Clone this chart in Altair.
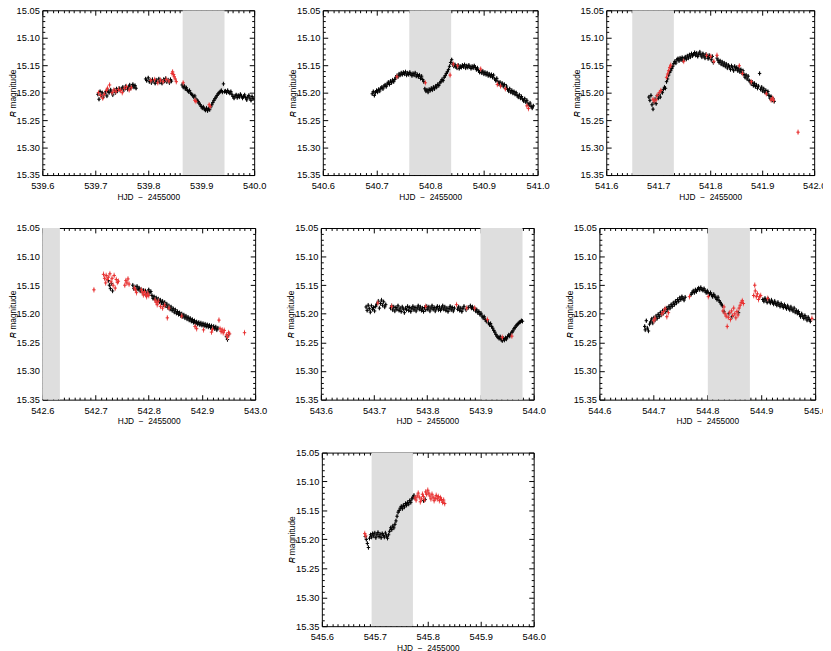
import altair as alt
import pandas as pd

FONT = "Liberation Sans"

# integer part of HJD - 2455000 for each panel
DAYS = [539, 540, 541, 542, 543, 544, 545]
# grey shaded interval (HJD - 2455000) for each panel
SHADES = [(539.865, 539.944), (540.761, 540.839), (541.650, 541.730), (542.553, 542.633),
          (543.900, 543.979), (544.801, 544.879), (545.694, 545.772)]

# points: (time in 0.001 d after the integer day, R magnitude in mmag above 15.000)
P1_K = [(705,203),(707,212),(709,198),(711,205),(713,200),(715,208),(718,202),(720,198),(722,206),(724,197),
        (726,200),(729,195),(731,199),(733,204),(736,196),(738,200),(740,193),(742,197),(745,192),(747,196),
        (749,193),(752,190),(754,195),(756,192),(758,188),(761,194),(763,190),(765,186),(767,192),(769,188),
        (771,185),(773,190),(775,187),(777,192),
        (795,175),(797,178),(800,173),(802,180),(804,177),(806,182),(808,176),(811,179),(813,183),(815,177),
        (817,180),(820,175),(822,181),(824,178),(826,183),(829,176),(831,179),(833,174),(835,180),(838,177),
        (840,182),(842,176),(844,179),
        (864,186),(866,190),(868,188),(870,193),(872,191),(874,196),(876,198),(878,196),(880,201),(882,203),
        (884,205),(886,208),(888,206),(890,212),(892,214),(894,216),(896,219),(898,222),(900,225),(902,228),
        (904,226),(906,230),(908,232),(910,228),(912,233),(914,229),(916,231),(918,226),(920,222),(922,218),
        (924,214),(926,211),(928,208),(930,205),(932,202),(934,200),(936,198),(938,196),(940,199),(942,184),
        (944,198),(946,197),(948,200),(950,196),(952,199),(954,201),(956,198),(958,203),(960,207),(962,210),
        (964,206),(966,204),(968,209),(970,205),(972,208),(974,203),(976,206),(978,210),(980,207),(982,204),
        (984,209),(986,213),(988,208),(990,205),(992,210),(994,214),(996,207),(998,211)]
P1_R = [(706,200),(710,205),(714,210),(717,203),(721,196),(723,192),(727,186),(732,200),(735,195),(739,198),
        (744,194),(748,196),(751,200),(755,192),(759,189),(764,195),(768,191),(805,178),(812,176),(818,182),
        (823,177),(828,180),(834,176),(839,179),(845,165),(846,162),(848,167),(849,171),(851,175),(853,180),
        (866,182),(888,214),(890,216),(915,222),(917,225)]

P2_K = [(692,202),(694,198),(696,205),(698,200),(700,196),(702,199),(704,194),(706,197),(708,192),(710,190),
        (712,193),(714,188),(716,186),(718,189),(720,184),(722,181),(724,185),(726,179),(728,182),(730,177),
        (732,180),(734,176),(736,172),(738,169),(740,171),(742,166),(744,168),(746,164),(748,167),(750,163),
        (752,166),(754,162),(756,168),(758,164),(760,167),(762,163),(764,166),(766,169),(768,165),(770,168),
        (772,164),(774,170),(776,167),(778,171),(780,168),(782,174),(784,170),(786,176),(788,180),(790,193),
        (792,197),(794,195),(796,199),(798,194),(800,196),(802,192),(804,195),(806,190),(808,193),(810,188),
        (812,190),(814,185),(816,187),(818,182),(820,180),(822,176),(824,178),(826,172),(828,169),(830,165),
        (832,162),(834,158),(836,152),(838,145),(840,140),(842,148),(844,152),(846,149),(848,153),(850,155),
        (852,150),(854,156),(856,152),(858,154),(860,150),(862,153),(864,149),(866,155),(868,151),(870,154),
        (872,150),(874,153),(876,156),(878,152),(880,155),(882,151),(884,154),(886,158),(888,155),(890,160),
        (892,163),(894,160),(896,164),(898,161),(900,166),(902,163),(904,167),(906,164),(908,169),(910,166),
        (912,170),(914,167),(916,172),(918,168),(920,175),(922,178),(924,174),(926,180),(928,184),(930,181),
        (932,186),(934,183),(936,188),(938,185),(940,192),(942,188),(944,194),(946,197),(948,193),(950,199),
        (952,196),(954,201),(956,198),(958,203),(960,200),(962,205),(964,208),(966,204),(968,210),(970,207),
        (972,212),(974,215),(976,211),(978,217),(980,214),(982,220),(984,223),(986,219),(988,225),(990,228),
        (992,224)]
P2_R = [(738,171),(791,182),(837,168),(843,148),(851,151),(894,157),(925,185),(931,188),(940,193),(980,224),
        (983,229)]

P3_K = [(682,208),(684,214),(686,205),(688,222),(690,230),(692,218),(694,212),(696,220),(698,206),(700,210),
        (702,203),(704,208),(706,198),(708,200),(710,194),(712,190),(714,192),(716,180),(718,175),(720,168),
        (722,163),(724,160),(726,156),(728,152),(730,147),(732,143),(734,146),(736,140),(738,138),(740,142),
        (742,137),(744,140),(746,136),(748,142),(750,138),(752,135),(754,139),(756,133),(758,137),(760,131),
        (762,135),(764,129),(766,133),(768,130),(770,127),(772,132),(774,128),(776,134),(778,130),(780,126),
        (782,131),(784,135),(786,129),(788,133),(790,137),(792,130),(794,134),(796,138),(798,132),(800,136),
        (802,140),(804,134),(806,145),(813,137),(815,141),(817,145),(819,142),(821,148),(823,144),(825,150),
        (827,146),(829,152),(831,148),(833,155),(835,150),(837,153),(839,158),(841,151),(843,155),(845,160),
        (847,152),(849,157),(851,154),(853,160),(855,156),(857,162),(859,158),(861,164),(863,160),(865,167),
        (867,172),(869,168),(871,175),(873,170),(875,178),(877,180),(879,184),(881,181),(883,187),(885,183),
        (887,189),(889,186),(891,192),(893,188),(895,165),(897,194),(899,190),(901,197),(903,193),(905,199),
        (907,196),(909,202),(911,198),(913,205),(915,210),(917,207),(919,214),(921,211),(923,216)]
P3_R = [(690,212),(692,215),(696,213),(698,205),(702,200),(705,196),(716,172),(718,166),(720,160),(722,154),
        (724,150),(749,143),(793,132),(801,134),(807,143),(813,132),(856,151),(862,165),(879,180),(908,202),
        (917,213),(920,210),(922,214),(969,272)]

P4_K = [(724,142),(726,150),(728,156),(730,147),(732,160),(770,150),(772,156),(774,153),(776,158),(778,152),
        (780,157),(782,155),(784,160),(786,157),(788,162),(790,159),(792,164),(794,160),(796,166),(798,162),
        (800,158),(802,163),(804,161),(806,168),(808,173),(810,170),(812,175),(814,172),(816,177),(818,174),
        (820,179),(822,176),(824,181),(826,178),(828,184),(830,180),(832,186),(834,183),(836,189),(838,186),
        (840,192),(842,188),(844,194),(846,191),(848,197),(850,193),(852,199),(854,196),(856,201),(858,198),
        (860,203),(862,200),(864,205),(866,202),(868,207),(870,204),(872,209),(874,206),(876,211),(878,208),
        (880,213),(882,210),(884,215),(886,212),(888,217),(890,214),(892,218),(894,215),(896,219),(898,216),
        (900,220),(902,217),(904,221),(906,218),(908,222),(910,219),(912,223),(914,220),(916,224),(918,221),
        (920,225),(922,222),(924,226),(926,223),(928,228),(930,225),(946,240),(948,245),(950,236)]
P4_R = [(697,158),(715,131),(717,138),(719,146),(720,133),(722,140),(724,136),(727,130),(729,144),(731,138),
        (733,150),(735,133),(737,155),(739,140),(741,145),(743,143),(755,150),(757,142),(759,146),(761,139),
        (763,148),(773,155),(775,158),(777,163),(786,158),(788,163),(790,167),(792,161),(794,166),(796,170),
        (798,164),(800,168),(812,176),(814,180),(816,184),(818,178),(822,187),(826,190),(830,185),(835,207),
        (838,190),(862,204),(887,222),(890,226),(903,228),(918,232),(920,227),(932,211),(934,226),(936,231),
        (938,228),(940,233),(942,229),(946,237),(948,241),(950,233),(952,235),(980,233)]

P5_K = [(685,188),(687,194),(689,185),(691,191),(693,197),(695,186),(697,192),(699,189),(701,195),(703,187),
        (705,183),(708,178),(710,190),(712,182),(714,176),(716,185),(718,179),(720,188),(722,184),(731,190),
        (733,186),(735,193),(737,188),(739,195),(741,189),(743,192),(745,186),(747,194),(749,190),(751,196),
        (753,188),(755,192),(757,198),(759,190),(761,193),(763,187),(765,194),(767,189),(769,196),(771,191),
        (773,187),(775,193),(777,189),(779,195),(781,190),(783,186),(785,192),(787,188),(789,194),(791,190),
        (793,196),(795,189),(797,193),(799,187),(801,192),(803,188),(805,195),(807,190),(809,186),(811,192),
        (813,189),(815,195),(817,190),(819,187),(821,193),(823,188),(825,194),(827,190),(829,186),(831,192),
        (833,188),(835,194),(837,190),(839,196),(841,191),(843,187),(845,193),(847,189),(849,195),(851,190),
        (857,192),(859,188),(861,194),(863,190),(865,196),(867,191),(869,187),(873,193),(877,189),(881,186),
        (883,190),(885,188),(887,192),(889,190),(891,195),(893,193),(895,198),(897,196),(899,201),(901,199),
        (903,204),(905,207),(907,205),(909,210),(911,213),(913,211),(915,216),(917,219),(919,217),(921,222),
        (923,225),(925,229),(927,232),(929,236),(931,239),(933,241),(935,243),(937,240),(939,245),(941,247),
        (943,243),(945,246),(947,242),(949,244),(951,240),(953,237),(955,239),(957,235),(959,232),(961,230),
        (963,226),(965,224),(967,221),(969,219),(971,217),(973,215),(975,214),(977,212),(979,213)]
P5_R = [(707,181),(733,187),(797,187),(855,184),(874,190),(889,190),(913,210),(941,241),(959,239)]

P6_K = [(684,222),(685,228),(687,212),(689,225),(691,230),(693,218),(695,214),(697,209),(699,216),(701,207),
        (703,211),(705,204),(707,208),(709,201),(711,205),(713,198),(715,202),(717,195),(719,199),(721,192),
        (723,196),(725,190),(727,193),(729,187),(731,190),(733,184),(735,187),(737,181),(739,184),(741,178),
        (743,181),(745,175),(747,178),(749,172),(751,175),(753,170),(755,173),(757,176),(759,171),(770,166),
        (772,163),(774,160),(776,163),(778,158),(780,161),(782,157),(784,155),(786,158),(788,154),(790,157),
        (792,159),(794,156),(796,160),(798,163),(800,160),(802,164),(804,166),(806,163),(808,167),(810,170),
        (812,166),(814,169),(816,172),(818,175),(820,171),(822,177),(824,180),(826,183),(828,186),(831,196),
        (840,200),(846,205),(858,198),(903,175),(905,178),(907,173),(909,176),(911,180),(913,174),(915,178),
        (917,181),(919,176),(921,180),(923,183),(925,178),(927,182),(929,185),(931,180),(933,184),(935,187),
        (937,182),(939,186),(941,189),(943,184),(945,188),(947,191),(949,186),(951,190),(953,193),(955,188),
        (957,192),(959,195),(961,190),(963,197),(965,194),(967,199),(969,196),(971,201),(973,205),(975,200),
        (977,204),(979,208),(981,203),(983,207),(985,211),(987,206),(989,210),(991,213)]
P6_R = [(701,212),(703,208),(716,200),(719,196),(722,191),(725,205),(728,198),(767,170),(802,170),(829,195),
        (831,188),(833,200),(835,204),(837,222),(839,206),(841,198),(843,210),(845,195),(847,203),(849,190),
        (851,200),(853,207),(855,196),(857,202),(859,190),(861,185),(863,180),(865,177),(867,182),(886,168),
        (888,150),(889,160),(891,170),(893,165),(895,175),(897,170),(899,168),(912,173),(994,208)]

P7_K = [(682,195),(684,200),(686,207),(688,214),(690,198),(692,192),(694,196),(696,190),(698,194),(700,189),
        (702,197),(704,192),(706,188),(708,195),(710,191),(712,197),(714,190),(716,193),(718,196),(720,189),
        (722,194),(724,198),(726,192),(728,186),(730,180),(732,183),(734,177),(736,180),(738,174),(740,168),
        (742,160),(744,153),(746,150),(748,146),(750,143),(752,147),(754,141),(756,144),(758,138),(760,141),
        (762,136),(764,139),(766,133),(768,136),(770,130),(772,127),(774,124),(776,128),(792,133),(795,131)]
P7_R = [(681,190),(683,194),(776,128),(778,132),(780,125),(782,120),(784,127),(786,135),(788,130),(790,122),
        (792,126),(794,132),(796,118),(798,122),(800,115),(802,120),(804,125),(806,130),(808,122),(810,127),
        (812,133),(814,129),(816,124),(818,130),(820,126),(822,133),(824,128),(826,131),(828,136),(830,132),
        (832,138)]

BLACK = [P1_K, P2_K, P3_K, P4_K, P5_K, P6_K, P7_K]
RED = [P1_R, P2_R, P3_R, P4_R, P5_R, P6_R, P7_R]

K_ERR = 0.004
R_ERR = 0.005
PLUS = "M-1,0L1,0M0,-1L0,1"


def frame(day, pts, err):
    t = [day + a / 1000 for a, b in pts]
    m = [15 + b / 1000 for a, b in pts]
    return pd.DataFrame({"t": t, "m": m, "lo": [v - err for v in m], "hi": [v + err for v in m]})


def axis(orient, values, size, labels=False, fmt=None, title=None, lpad=4, tpad=0):
    d = dict(orient=orient, values=values, tickSize=size, offset=-size, labels=labels,
             grid=False, domain=False, tickColor="black", tickWidth=1, title=title)
    if labels:
        d.update(format=fmt, labelFont=FONT, labelFontSize=9.5, labelColor="black",
                 labelPadding=lpad, labelFlush=False, labelOverlap=False)
    if title:
        d.update(titleFont=FONT, titleFontSize=8.5, titleFontWeight="normal",
                 titleColor="black", titlePadding=tpad)
    return alt.Axis(**d)


def panel(i, w, h):
    day = DAYS[i]
    xs = alt.Scale(domain=[day + 0.6, day + 1.0], nice=False, zero=False)
    ys = alt.Scale(domain=[15.05, 15.35], reverse=True, nice=False, zero=False)
    xmaj = [round(day + 0.6 + 0.1 * k, 2) for k in range(5)]
    xmin = [round(day + 0.6 + 0.01 * k, 3) for k in range(41) if k % 10]
    ymaj = [round(15.05 + 0.05 * k, 2) for k in range(7)]
    ymin = [round(15.05 + 0.01 * k, 2) for k in range(31) if k % 5]
    sdf = pd.DataFrame({"s": [SHADES[i][0]], "e": [SHADES[i][1]], "y0": [15.05], "y1": [15.35]})
    kdf = frame(day, BLACK[i], K_ERR)
    rdf = frame(day, RED[i], R_ERR)

    shade = alt.Chart(sdf).mark_rect(color="#dedede", clip=True).encode(
        x=alt.X("s:Q", scale=xs, axis=None), x2="e:Q",
        y=alt.Y("y0:Q", scale=ys, axis=None), y2="y1:Q")
    kbars = alt.Chart(kdf).mark_rule(color="#3a3a3a", strokeWidth=1, clip=True).encode(
        x=alt.X("t:Q", scale=xs, axis=axis("bottom", xmaj, 5, True, ".1f",
                                           "HJD\u00a0\u00a0\u2212\u00a0\u00a02455000", lpad=6, tpad=2)),
        y=alt.Y("lo:Q", scale=ys, axis=axis("left", ymaj, 5, True, ".2f", "\U0001D445 magnitude", lpad=3, tpad=-1)),
        y2="hi:Q")
    kpts = alt.Chart(kdf).mark_point(shape=PLUS, size=12, color="black", filled=False,
                                     strokeWidth=1, opacity=1, clip=True).encode(
        x=alt.X("t:Q", scale=xs, axis=axis("bottom", xmin, 2.5)),
        y=alt.Y("m:Q", scale=ys, axis=axis("left", ymin, 2.5)))
    rbars = alt.Chart(rdf).mark_rule(color="#f07a7a", strokeWidth=1, clip=True).encode(
        x=alt.X("t:Q", scale=xs, axis=axis("top", xmaj, 5)),
        y=alt.Y("lo:Q", scale=ys, axis=axis("right", ymaj, 5)),
        y2="hi:Q")
    rpts = alt.Chart(rdf).mark_point(shape=PLUS, size=12, color="#e83030", filled=False,
                                     strokeWidth=1, opacity=1, clip=True).encode(
        x=alt.X("t:Q", scale=xs, axis=axis("top", xmin, 2.5)),
        y=alt.Y("m:Q", scale=ys, axis=axis("right", ymin, 2.5)))
    return alt.layer(shade, kbars, kpts, rbars, rpts).resolve_axis(
        x="independent", y="independent").properties(width=w, height=h)


row1 = alt.hconcat(panel(0, 216, 168), panel(1, 219, 168), panel(2, 212, 168), spacing=21)
row2 = alt.hconcat(panel(3, 217, 175), panel(4, 217, 175), panel(5, 220, 175), spacing=18)
blank = alt.Chart(pd.DataFrame({"a": [0]})).mark_point(opacity=0).encode(
    x=alt.value(0), y=alt.value(0)).properties(
    width=228, height=10, view=alt.ViewBackground(stroke="transparent"))
row3 = alt.hconcat(blank, panel(6, 216, 177), spacing=20)

chart = alt.vconcat(row1, row2, row3, spacing=21).properties(
    padding={"left": -1, "top": -10, "right": -5, "bottom": -6}
).configure_view(stroke="black", strokeWidth=1)

chart.save("out.html", embed_options={"renderer": "svg", "actions": False})
